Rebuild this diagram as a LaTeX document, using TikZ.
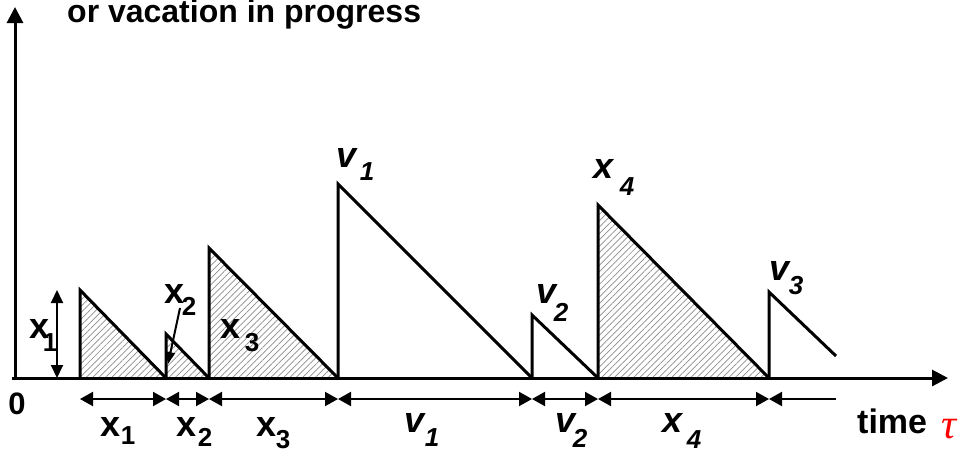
\documentclass[tikz,border=0pt]{standalone}
\usepackage{fontspec}
\setmainfont{Liberation Sans}
\newfontfamily\taufont{Liberation Serif}
\usetikzlibrary{arrows.meta,patterns.meta}
\begin{document}
\begin{tikzpicture}[x=1pt,y=-1pt,
  axisline/.style={line width=3pt,-{Triangle[length=16pt,width=16pt]}},
  saw/.style={line width=3pt,line join=miter},
  hatch/.style={pattern={Lines[angle=45,distance=4.5pt,line width=0.7pt]},pattern color=gray!90},
  dimline/.style={line width=2pt},
  lbl/.style={font=\fontsize{36}{40}\selectfont\bfseries,inner sep=0pt},
  sub/.style={font=\fontsize{26}{28}\selectfont\bfseries,inner sep=0pt},
  ilbl/.style={font=\fontsize{36}{40}\selectfont\bfseries\itshape,inner sep=0pt},
  isub/.style={font=\fontsize{26}{28}\selectfont\bfseries\itshape,inner sep=0pt}]
\useasboundingbox (0,0) rectangle (964,451);
% base points
\coordinate (b0) at (80,378);
\coordinate (b1) at (166,378);
\coordinate (b2) at (209,378);
\coordinate (b3) at (338,378);
\coordinate (b4) at (532,378);
\coordinate (b5) at (598,378);
\coordinate (b6) at (769,378);
% tops
\coordinate (t1) at (80,290);
\coordinate (t2) at (166,334);
\coordinate (t3) at (209,248);
\coordinate (t4) at (338,184);
\coordinate (t5) at (532,315);
\coordinate (t6) at (598,205);
\coordinate (t7) at (769,292);
\coordinate (e7) at (836,356);
% hatched areas
\fill[hatch] (b0) -- (t1) -- (b1) -- cycle;
\fill[hatch] (b1) -- (t2) -- (b2) -- cycle;
\fill[hatch] (b2) -- (t3) -- (b3) -- cycle;
\fill[hatch] (b5) -- (t6) -- (b6) -- cycle;
% axes
\coordinate (yb) at (15,380);
\coordinate (yt) at (15,7);
\coordinate (xb) at (12,378);
\coordinate (xt) at (948,378);
\draw[axisline] (yb) -- (yt);
\draw[axisline] (xb) -- (xt);
% sawtooth
\draw[saw] (b0) -- (t1) -- (b1);
\draw[saw] (b1) -- (t2) -- (b2);
\draw[saw] (b2) -- (t3) -- (b3);
\draw[saw] (b3) -- (t4) -- (b4);
\draw[saw] (b4) -- (t5) -- (b5);
\draw[saw] (b5) -- (t6) -- (b6);
\draw[saw] (b6) -- (t7) -- (e7);
\draw[saw] (b3) -- (b5);
% dimension row
\coordinate (d0) at (80,399);
\coordinate (d1) at (166,399);
\coordinate (d2) at (209,399);
\coordinate (d3) at (338,399);
\coordinate (d4) at (532,399);
\coordinate (d5) at (598,399);
\coordinate (d6) at (769,399);
\coordinate (d7) at (836,399);
\draw[dimline,{Triangle[length=13pt,width=14pt]}-{Triangle[length=13pt,width=14pt]}] (d0) -- (d1);
\draw[dimline,{Triangle[length=13pt,width=14pt]}-{Triangle[length=13pt,width=14pt]}] (d1) -- (d2);
\draw[dimline,{Triangle[length=13pt,width=14pt]}-{Triangle[length=13pt,width=14pt]}] (d2) -- (d3);
\draw[dimline,{Triangle[length=13pt,width=14pt]}-{Triangle[length=13pt,width=14pt]}] (d3) -- (d4);
\draw[dimline,{Triangle[length=13pt,width=14pt]}-{Triangle[length=13pt,width=14pt]}] (d4) -- (d5);
\draw[dimline,{Triangle[length=13pt,width=14pt]}-{Triangle[length=13pt,width=14pt]}] (d5) -- (d6);
\draw[dimline,{Triangle[length=13pt,width=14pt]}-] (d6) -- (d7);
% vertical height arrow
\coordinate (h0) at (57,290);
\coordinate (h1) at (57,378);
\draw[dimline,{Triangle[length=13pt,width=12pt]}-{Triangle[length=13pt,width=12pt]}] (h0) -- (h1);
% x2 pointer
\coordinate (p0) at (180,308);
\coordinate (p1) at (168,364);
\draw[dimline,-{Triangle[length=12pt,width=9pt]}] (p0) -- (p1);
% title
\node[font=\fontsize{32}{36}\selectfont\bfseries,inner sep=0pt,anchor=base west] (title) at (67,22) {or vacation in progress};
% zero
\node[font=\fontsize{31}{34}\selectfont\bfseries,inner sep=0pt] (zero) at (17,404) {0};
% labels
\node[lbl] (lx1) at (40,329) {x};
\node[sub] (lx1s) at (50,343) {1};
\node[lbl] (tx2) at (175,294) {x};
\node[sub] (tx2s) at (189,306) {2};
\node[lbl] (tx3) at (231,329) {x};
\node[sub] (tx3s) at (252,343) {3};
\node[ilbl] (tv1) at (347,158) {v};
\node[isub] (tv1s) at (367,172) {1};
\node[ilbl] (tv2) at (547,294) {v};
\node[isub] (tv2s) at (561,312) {2};
\node[ilbl] (tx4) at (604,169) {x};
\node[isub] (tx4s) at (627,187) {4};
\node[ilbl] (tv3) at (780,271) {v};
\node[isub] (tv3s) at (796,286) {3};
% bottom labels
\node[lbl] (bx1) at (111,427) {x};
\node[sub] (bx1s) at (128,436) {1};
\node[lbl] (bx2) at (187,427) {x};
\node[sub] (bx2s) at (205,437) {2};
\node[lbl] (bx3) at (267,427) {x};
\node[sub] (bx3s) at (283,440) {3};
\node[ilbl] (bv1) at (415,423) {v};
\node[isub] (bv1s) at (432,438) {1};
\node[ilbl] (bv2) at (566,423) {v};
\node[isub] (bv2s) at (580,438) {2};
\node[ilbl] (bx4) at (673,423) {x};
\node[isub] (bx4s) at (694,440) {4};
% time
\node[font=\fontsize{34}{38}\selectfont\bfseries,inner sep=0pt,anchor=base west] (time) at (857,433) {time};
\node[text=red,font=\fontsize{42}{46}\selectfont\taufont\itshape,inner sep=0pt] (tau) at (949,429) {τ};
\end{tikzpicture}
\end{document}
